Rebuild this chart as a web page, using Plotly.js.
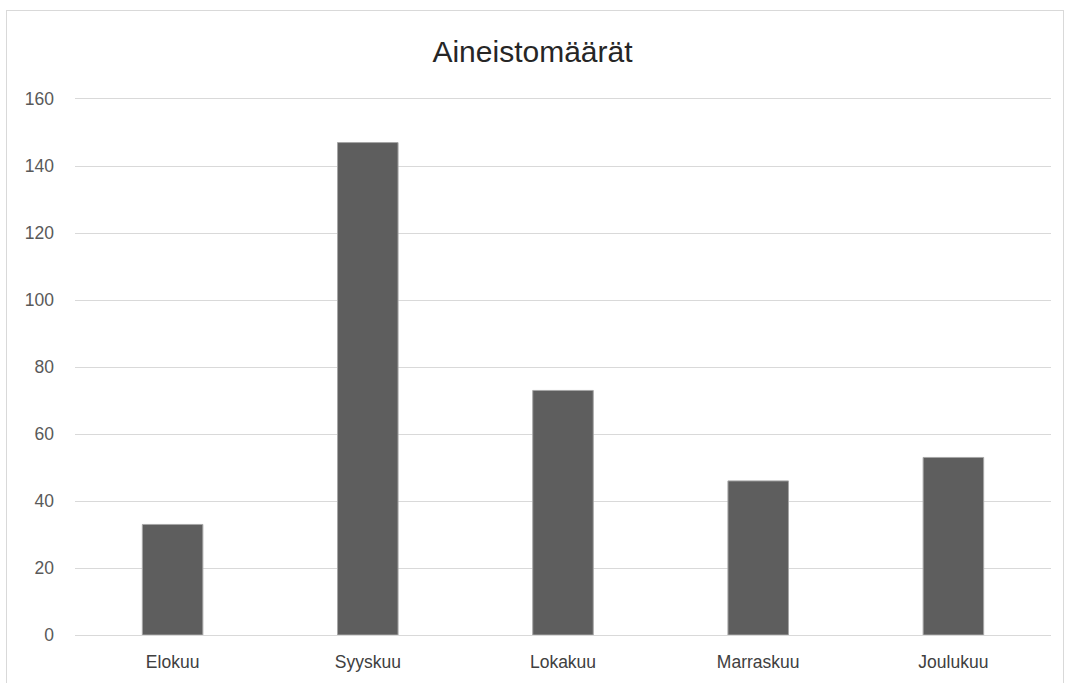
<!DOCTYPE html>
<html>
<head>
<meta charset="utf-8">
<script src="https://cdn.plot.ly/plotly-3.0.1.min.js"></script>
<style>
html,body{margin:0;padding:0;background:#fff;overflow:hidden;}
#chart{position:absolute;left:0;top:0;width:1065px;height:683px;}
#frame{position:absolute;left:6px;top:10px;width:1056px;height:700px;border:1px solid #d9d9d9;pointer-events:none;}
</style>
</head>
<body>
<div id="chart"></div>
<div id="frame"></div>
<script>
var categories = ["Elokuu", "Syyskuu", "Lokakuu", "Marraskuu", "Joulukuu"];
var values = [33, 147, 73, 46, 53];
var yTicks = [0, 20, 40, 60, 80, 100, 120, 140, 160];

var trace = {
  type: "bar",
  x: categories,
  y: values,
  marker: {color: "#5e5e5e", line: {color: "#a6a6a6", width: 1}},
  hoverinfo: "x+y"
};

var layout = {
  width: 1065,
  height: 683,
  margin: {l: 75, r: 14, t: 99, b: 48},
  paper_bgcolor: "rgba(0,0,0,0)",
  plot_bgcolor: "#fff",
  bargap: 0.69,
  showlegend: false,
  title: {
    text: "Aineistomäärät",
    font: {family: "Liberation Sans, Arial, sans-serif", size: 30, color: "#262626"},
    x: 0.5, xanchor: "center",
    y: 1 - 51/683, yanchor: "middle"
  },
  xaxis: {
    type: "category",
    showgrid: false,
    showline: true,
    mirror: true,
    linecolor: "#d9d9d9",
    linewidth: 1,
    ticks: "",
    ticklabelstandoff: 11,
    tickfont: {family: "Liberation Sans, Arial, sans-serif", size: 17.5, color: "#404040"},
    fixedrange: true
  },
  yaxis: {
    range: [0, 160],
    tickvals: yTicks,
    ticktext: yTicks.map(String),
    showgrid: true,
    gridcolor: "#d9d9d9",
    gridwidth: 1,
    zeroline: false,
    showline: false,
    ticks: "",
    ticklabelstandoff: 20,
    tickfont: {family: "Liberation Sans, Arial, sans-serif", size: 17.5, color: "#595959"},
    fixedrange: true
  }
};

Plotly.newPlot("chart", [trace], layout, {displayModeBar: false, staticPlot: true});
</script>
</body>
</html>
